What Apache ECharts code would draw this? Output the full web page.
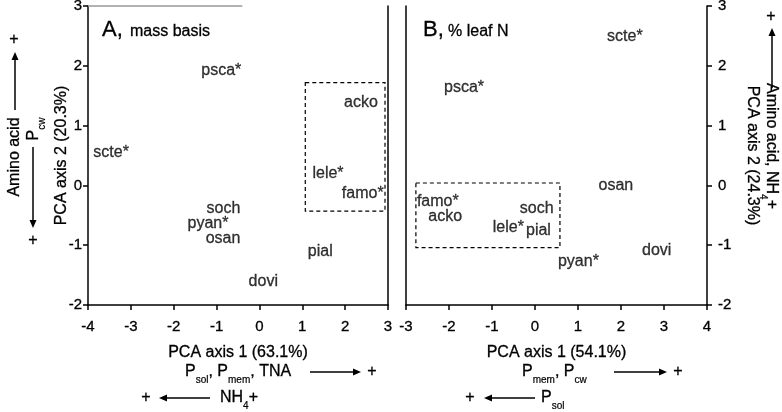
<!DOCTYPE html>
<html><head><meta charset="utf-8">
<script src="https://cdn.jsdelivr.net/npm/echarts@6/dist/echarts.min.js"></script>
<style>html,body{margin:0;padding:0;background:#fff}#c{width:782px;height:412px}</style>
</head><body><div id="c"></div>
<script>
const FONT = '"Liberation Sans", Arial, sans-serif';

// Panel A (mass basis)
const namesA = ['psca*','acko','scte*','lele*','famo*','soch','pyan*','osan','pial','dovi'];
const xA = [-0.89, 2.37, -3.46, 1.60, 2.41, -0.84, -1.20, -0.85, 1.42, 0.09];
const yA = [1.92, 1.38, 0.55, 0.19, -0.13, -0.39, -0.64, -0.89, -1.11, -1.61];
const boxA = [1.07, 1.72, 2.93, -0.43];
const xRangeA = [-4, 3];
const yRangeA = [-2, 3];

// Panel B (% leaf N)
const namesB = ['scte*','psca*','osan','famo*','acko','soch','lele*','pial','pyan*','dovi'];
const xB = [2.09, -1.65, 1.88, -2.26, -2.09, 0.04, -0.62, 0.08, 1.01, 2.83];
const yB = [2.49, 1.63, -0.01, -0.27, -0.52, -0.38, -0.70, -0.76, -1.28, -1.09];
const boxB = [-2.77, 0.04, 0.58, -1.04];
const xRangeB = [-3, 4];
const yRangeB = [-2, 3];

const chart = echarts.init(document.getElementById('c'), null, {renderer: 'canvas'});

function pts(names, xs, ys) { return names.map((n, i) => ({name: n, value: [xs[i], ys[i]]})); }
function box(b) { return [[{coord: [b[0], b[1]]}, {coord: [b[2], b[3]]}]]; }

const lineStyle = {color: '#000', width: 1.5};
const heavy = {textBorderColor: '#000', textBorderWidth: 0.3};
const nameStyle = Object.assign({color: '#000', fontSize: 16, fontFamily: FONT}, heavy);
const tickLabel = Object.assign({color: '#000', fontSize: 15, fontFamily: FONT}, heavy);

function xAx(grid, range, name) {
  return {gridIndex: grid, type: 'value', min: range[0], max: range[1], interval: 1,
    axisLine: {show: true, onZero: false, lineStyle},
    axisTick: {show: true, inside: false, length: 5, lineStyle},
    axisLabel: Object.assign({margin: 14}, tickLabel),
    splitLine: {show: false},
    name, nameLocation: 'middle', nameGap: 40, nameMoveOverlap: false, nameTextStyle: nameStyle};
}
function yAx(grid, range, pos, name, rot, gap, margin) {
  return {gridIndex: grid, type: 'value', position: pos, min: range[0], max: range[1], interval: 1,
    axisLine: {show: true, onZero: false, lineStyle},
    axisTick: {show: true, inside: false, length: 5, lineStyle},
    axisLabel: Object.assign({margin}, tickLabel),
    splitLine: {show: false},
    name, nameLocation: 'middle', nameRotate: rot, nameGap: gap, nameMoveOverlap: false, nameTextStyle: nameStyle};
}
function borderAx(grid, range, pos) {
  return {gridIndex: grid, type: 'value', position: pos, min: range[0], max: range[1], interval: 1,
    axisLine: {show: true, onZero: false, lineStyle}, axisTick: {show: false},
    axisLabel: {show: false}, splitLine: {show: false}};
}

const dataLabel = Object.assign({show: true, position: 'inside', formatter: '{b}', color: '#000',
  fontSize: 16, fontFamily: FONT}, heavy);
const boxStyle = {color: 'rgba(0,0,0,0)', borderColor: '#000', borderWidth: 1.2, borderType: [4, 3]};

const sub = {fontSize: 10, fontFamily: FONT, fill: '#000', verticalAlign: 'bottom', lineHeight: 12, padding: [0, 0, -3, 0], stroke: '#000', lineWidth: 0.2};
const main = {fontSize: 16, fontFamily: FONT, fill: '#000', lineHeight: 20, stroke: '#000', lineWidth: 0.3};
const richT = {m: main, s: sub};

function txt(x, y, text, opts) {
  return Object.assign({type: 'text', x, y, silent: true,
    style: {text, rich: richT, fill: '#000', stroke: '#000', lineWidth: 0.3, font: '16px ' + FONT, fontSize: 16, fontFamily: FONT,
      align: 'left', textAlign: 'left', verticalAlign: 'middle', textVerticalAlign: 'middle'}}, opts || {});
}
function bigTxt(x, y, text) {
  return {type: 'text', x, y, silent: true,
    style: {text, fill: '#000', stroke: '#000', lineWidth: 0.3, fontSize: 22, fontFamily: FONT, font: '22px ' + FONT,
      align: 'left', textAlign: 'left', verticalAlign: 'middle', textVerticalAlign: 'middle'}};
}
function hArrow(x1, x2, y, dir) {
  const els = [];
  if (dir > 0) {
    els.push({type: 'line', silent: true, shape: {x1, y1: y, x2: x2 - 7, y2: y}, style: {stroke: '#000', lineWidth: 1.5}});
    els.push({type: 'polygon', silent: true, shape: {points: [[x2 - 8, y - 3.5], [x2, y], [x2 - 8, y + 3.5]]}, style: {fill: '#000'}});
  } else {
    els.push({type: 'line', silent: true, shape: {x1: x1 + 7, y1: y, x2, y2: y}, style: {stroke: '#000', lineWidth: 1.5}});
    els.push({type: 'polygon', silent: true, shape: {points: [[x1 + 8, y - 3.5], [x1, y], [x1 + 8, y + 3.5]]}, style: {fill: '#000'}});
  }
  return els;
}
function vArrow(x, y1, y2, dir) {
  const els = [];
  if (dir < 0) {
    els.push({type: 'line', silent: true, shape: {x1: x, y1: y1 + 7, x2: x, y2}, style: {stroke: '#000', lineWidth: 1.5}});
    els.push({type: 'polygon', silent: true, shape: {points: [[x - 3.5, y1 + 8], [x, y1], [x + 3.5, y1 + 8]]}, style: {fill: '#000'}});
  } else {
    els.push({type: 'line', silent: true, shape: {x1: x, y1, x2: x, y2: y2 - 7}, style: {stroke: '#000', lineWidth: 1.5}});
    els.push({type: 'polygon', silent: true, shape: {points: [[x - 3.5, y2 - 8], [x, y2], [x + 3.5, y2 - 8]]}, style: {fill: '#000'}});
  }
  return els;
}
function center(el) { el.style.align = 'center'; el.style.textAlign = 'center'; return el; }

const graphics = [
  // panel titles
  bigTxt(102, 30, 'A,'),
  txt(130, 32, 'mass basis'),
  bigTxt(423, 30, 'B,'),
  txt(448, 32, '% leaf N'),
  // bottom annotations, panel A
  txt(185, 372, '{m|P}{s|sol}{m|, P}{s|mem}{m|, TNA}'),
  ...hArrow(310, 361, 372, 1),
  center(txt(372, 372, '+')),
  center(txt(146, 398, '+')),
  ...hArrow(159, 210, 398, -1),
  txt(220, 398, '{m|NH}{s|4}{m|+}'),
  // bottom annotations, panel B
  txt(522, 372, '{m|P}{s|mem}{m|, P}{s|cw}'),
  ...hArrow(614, 667, 372, 1),
  center(txt(678, 372, '+')),
  center(txt(470, 398, '+')),
  ...hArrow(484, 535, 398, -1),
  txt(541, 398, '{m|P}{s|sol}'),
  // left side annotations
  center(txt(15, 157, 'Amino acid', {rotation: Math.PI / 2})),
  ...vArrow(15, 52, 110, -1),
  center(txt(14, 40, '+')),
  center(txt(34, 129, '{m|P}{s|cw}', {rotation: Math.PI / 2})),
  ...vArrow(33, 147, 228, 1),
  center(txt(33, 241, '+')),
  // right side annotations
  center(txt(771, 146, '{m|Amino acid, NH}{s|4}{m|+}', {rotation: -Math.PI / 2})),
  ...vArrow(772, 28, 88, -1),
  center(txt(771, 17, '+'))
];

chart.setOption({
  animation: false,
  backgroundColor: '#fff',
  textStyle: {fontFamily: FONT},
  grid: [
    {left: 88, top: 6, width: 300, height: 299, outerBoundsMode: 'none'},
    {left: 406, top: 6, width: 301, height: 299, outerBoundsMode: 'none'}
  ],
  xAxis: [
    xAx(0, xRangeA, 'PCA axis 1 (63.1%)'),
    xAx(1, xRangeB, 'PCA axis 1 (54.1%)')
  ],
  yAxis: [
    yAx(0, yRangeA, 'left', 'PCA axis 2 (20.3%)', 90, 18, 6),
    yAx(1, yRangeB, 'right', 'PCA axis 2 (24.3%)', -90, 37, 11),
    borderAx(0, yRangeA, 'right'),
    borderAx(1, yRangeB, 'left')
  ],
  series: [
    {type: 'scatter', xAxisIndex: 0, yAxisIndex: 0, symbolSize: 1,
     itemStyle: {color: 'rgba(0,0,0,0)'}, label: dataLabel, silent: true,
     data: pts(namesA, xA, yA),
     markArea: {silent: true, itemStyle: boxStyle, data: box(boxA)},
     markLine: {silent: true, symbol: 'none', label: {show: false},
       lineStyle: {color: '#999', width: 1.5, type: 'solid'},
       data: [[{coord: [xRangeA[0], yRangeA[1]]}, {coord: [-0.4, yRangeA[1]]}]]}},
    {type: 'scatter', xAxisIndex: 1, yAxisIndex: 1, symbolSize: 1,
     itemStyle: {color: 'rgba(0,0,0,0)'}, label: dataLabel, silent: true,
     data: pts(namesB, xB, yB),
     markArea: {silent: true, itemStyle: boxStyle, data: box(boxB)}}
  ],
  graphic: graphics
});
</script>
</body></html>
